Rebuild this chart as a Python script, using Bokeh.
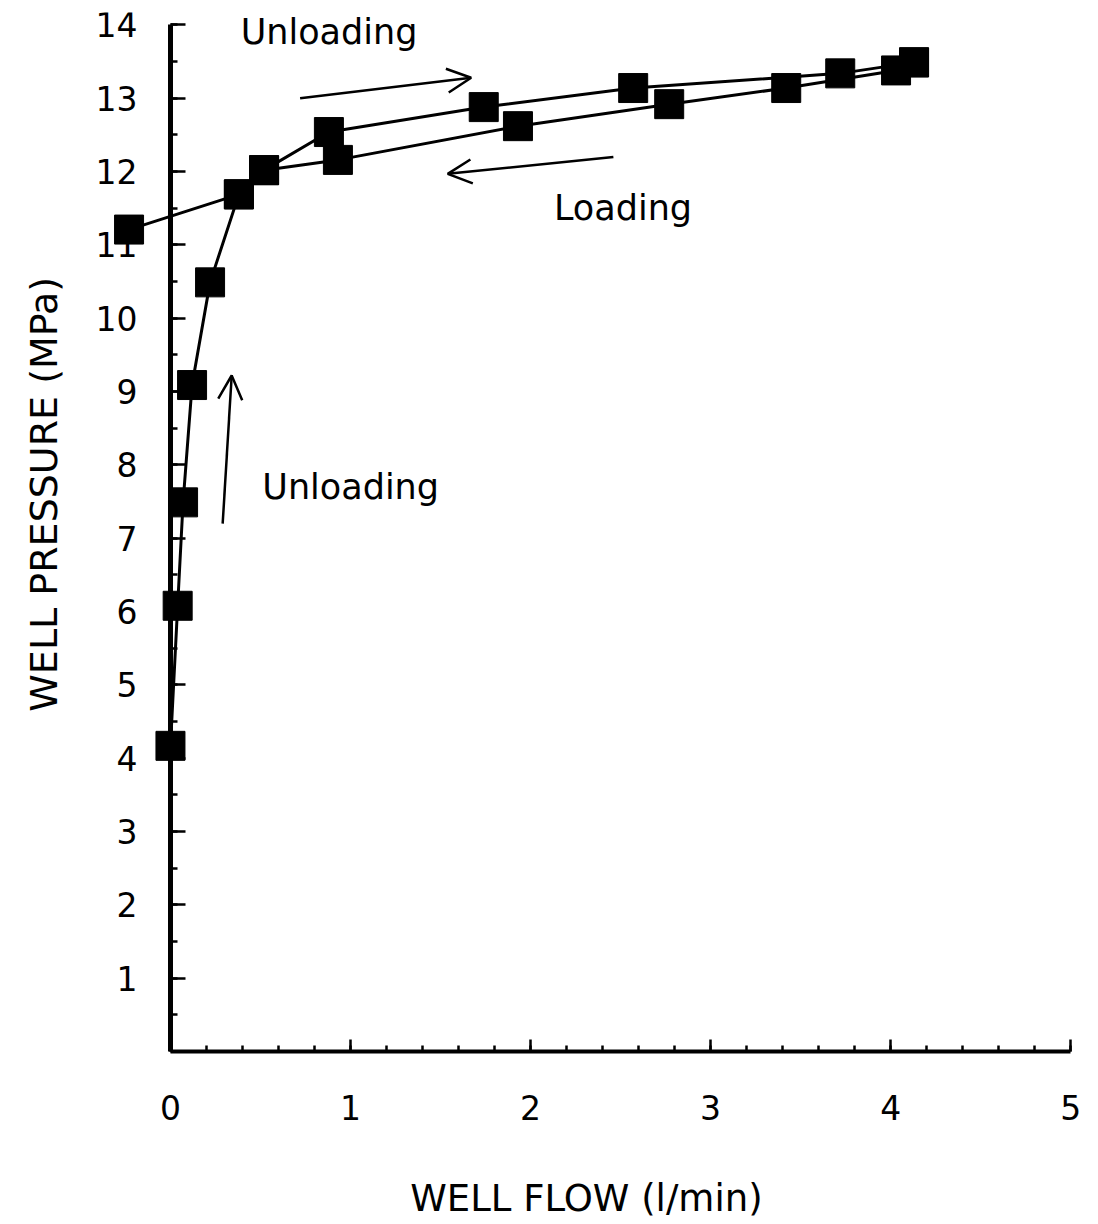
import math
from bokeh.plotting import figure
from bokeh.models import FixedTicker, Range1d, Label, Arrow, OpenHead, ColumnDataSource
from bokeh.embed import file_html
from bokeh.resources import INLINE

# ---- data ----
unload_flow = [0.00, 0.04, 0.07, 0.12, 0.22, 0.38, 0.52, 0.88, 1.74, 2.57, 3.72, 4.13]
unload_pressure = [4.17, 6.08, 7.49, 9.09, 10.49, 11.69, 12.02, 12.54, 12.88, 13.14, 13.34, 13.49]
load_flow = [4.13, 4.03, 3.42, 2.77, 1.93, 0.93, 0.52, 0.38, -0.23]
load_pressure = [13.49, 13.38, 13.14, 12.92, 12.62, 12.16, 12.02, 11.69, 11.21]
x_ticks = [0, 1, 2, 3, 4, 5]
y_ticks = [1, 2, 3, 4, 5, 6, 7, 8, 9, 10, 11, 12, 13, 14]
x_title = "WELL FLOW (l/min)"
y_title = "WELL PRESSURE (MPa)"

FONT = "DejaVu Sans"

p = figure(width=1090, height=1222, x_range=Range1d(-0.944, 5.06), y_range=Range1d(-2.33, 14.17),
           output_backend="svg", toolbar_location=None, title=None,
           min_border_left=0, min_border_right=9, min_border_top=12, min_border_bottom=0)
p.xgrid.visible = False
p.ygrid.visible = False
p.outline_line_color = None
p.background_fill_color = "white"
p.border_fill_color = "white"

unload = ColumnDataSource(dict(x=unload_flow, y=unload_pressure))
load = ColumnDataSource(dict(x=load_flow, y=load_pressure))
for src in (unload, load):
    p.line("x", "y", source=src, line_width=3, line_color="black")
    p.scatter("x", "y", source=src, marker="square", size=29, fill_color="black", line_color="black")

# axes (drawn crossing at the origin, as in the reference)
xa = p.xaxis[0]
xa.ticker = FixedTicker(ticks=x_ticks, minor_ticks=[i * 0.2 for i in range(26)])
xa.bounds = (0, 5)
xa.fixed_location = 0
xa.major_tick_in = 12
xa.minor_tick_in = 6
xa.major_label_standoff = 43
xa.axis_line_width = 4

ya = p.yaxis[0]
ya.ticker = FixedTicker(ticks=y_ticks, minor_ticks=[i * 0.5 for i in range(29)])
ya.bounds = (0, 14)
ya.fixed_location = 0
ya.major_tick_in = 15
ya.minor_tick_in = 7
ya.major_label_standoff = 33
ya.axis_line_width = 5

for ax in (xa, ya):
    ax.axis_line_color = "black"
    ax.major_tick_out = 0
    ax.minor_tick_out = 0
    ax.major_tick_line_width = 2.5
    ax.minor_tick_line_width = 2.5
    ax.major_tick_line_color = "black"
    ax.minor_tick_line_color = "black"
    ax.major_label_text_font = FONT
    ax.major_label_text_font_size = "33px"
    ax.major_label_text_color = "black"

# axis titles (placed to match the reference's off-centre positions)
p.add_layout(Label(x=2.31, y=-2.0, text=x_title, text_align="center", text_baseline="middle",
                   text_font=FONT, text_font_size="37px", text_color="black"))
p.add_layout(Label(x=-0.705, y=7.6, text=y_title, angle=math.pi / 2, text_align="center",
                   text_baseline="middle", text_font=FONT, text_font_size="38px", text_color="black"))

# annotations
labels = [("Unloading", 0.39, 13.90), ("Loading", 2.13, 11.51), ("Unloading", 0.51, 7.70)]
for txt, lx, ly in labels:
    p.add_layout(Label(x=lx, y=ly, text=txt, text_baseline="alphabetic", text_align="left",
                       text_font=FONT, text_font_size="35px", text_color="black"))

arrows = [(0.72, 13.00, 1.67, 13.28), (2.46, 12.20, 1.54, 11.97), (0.29, 7.20, 0.34, 9.22)]
for xs, ys, xe, ye in arrows:
    p.add_layout(Arrow(x_start=xs, y_start=ys, x_end=xe, y_end=ye, line_width=2.5, line_color="black",
                       end=OpenHead(size=24, line_width=2.5, line_color="black")))

open("out.html", "w").write(file_html(p, INLINE))
